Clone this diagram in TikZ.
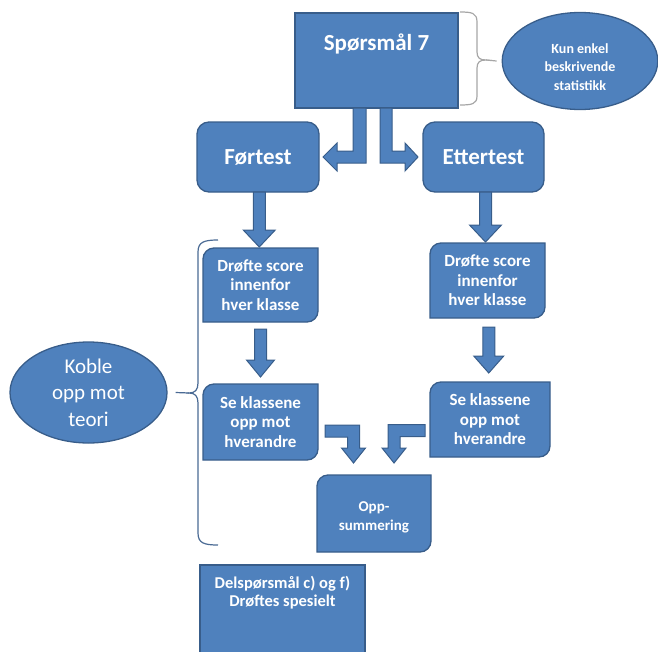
\documentclass[tikz,border=0pt]{standalone}
\usepackage{fontspec}
\setmainfont{Carlito}
\usetikzlibrary{shapes.geometric,calc}
\definecolor{boxc}{HTML}{4F81BD}
\definecolor{bordc}{HTML}{385D8A}
\definecolor{bracegrey}{HTML}{A6A6A6}
\definecolor{braceblue}{HTML}{4A6A94}
\pgfdeclarelayer{bg}
\pgfsetlayers{bg,main}

\tikzset{
  boxtxt/.style={text=white, align=center, inner sep=0pt, outer sep=0pt},
  sqbox/.style={boxtxt, draw=bordc, fill=boxc, line width=1.3pt},
  rndbox/.style={sqbox, rounded corners=12pt},
  ovalbox/.style={ellipse, draw=bordc, fill=boxc, line width=1.3pt, text=white, align=center, inner sep=0pt},
  blk/.style={fill=boxc, draw=bordc, line width=1pt, line join=miter},
  shapeline/.style={fill=boxc, draw=bordc, line width=1.3pt},
  bigtxt/.style={font=\fontsize{23}{28}\selectfont\bfseries},
  midtxt/.style={font=\fontsize{17}{19.5}\selectfont\bfseries},
}

% rectangle with rounded top-left and bottom-right corners, behind node #1
\newcommand\diagshape[2]{%
  \begin{pgfonlayer}{bg}
  \filldraw[shapeline] ([xshift=#2]#1.north west) -- (#1.north east)
    -- ([yshift=#2]#1.south east) arc[start angle=0,end angle=-90,radius=#2]
    -- (#1.south west) -- ([yshift=-#2]#1.north west)
    arc[start angle=180,end angle=90,radius=#2] -- cycle;
  \end{pgfonlayer}}

% straight block arrow pointing down: from, to, start gap, end gap, head half-width
\newcommand\blkdown[5]{%
  \filldraw[blk] let \p1=(#1), \p2=(#2), \p3=($(#1)!.5!(#2)$) in
    (\x3-6pt,\y1-#3) -- (\x3-6pt,\y2+#4+17pt) -- (\x3-#5,\y2+#4+17pt)
    -- (\x3,\y2+#4) -- (\x3+#5,\y2+#4+17pt) -- (\x3+6pt,\y2+#4+17pt)
    -- (\x3+6pt,\y1-#3) -- cycle;}

\begin{document}
\begin{tikzpicture}[x=1pt,y=-1pt]
\useasboundingbox (0,0) rectangle (658,651);

% boxes
\node[sqbox, bigtxt, minimum width=163pt, minimum height=95pt] (q7) at (376.5,60.5)
  {\parbox[c][95pt][t]{150pt}{\centering\vspace*{21pt}Spørsmål 7}};
\node[ovalbox, minimum width=154pt, minimum height=97pt,
  font=\fontsize{14}{18.5}\selectfont\bfseries] (kun) at (580,61)
  {\parbox{110pt}{\centering\vspace*{12pt}Kun enkel\\beskrivende\\statistikk}};

\node[rndbox, bigtxt, minimum width=122pt, minimum height=70pt] (f) at (258,157) {Førtest};
\node[rndbox, bigtxt, minimum width=121pt, minimum height=70pt] (e) at (483.5,157) {Ettertest};

\node[boxtxt, midtxt, minimum width=115pt, minimum height=74pt] (d1) at (260.5,285)
  {Drøfte score\\innenfor\\hver klasse};
\node[boxtxt, midtxt, minimum width=115pt, minimum height=75pt] (d2) at (487.5,280.5)
  {Drøfte score\\innenfor\\hver klasse};
\node[boxtxt, midtxt, minimum width=115pt, minimum height=76pt] (s1) at (260.5,422)
  {Se klassene\\opp mot\\hverandre};
\node[boxtxt, midtxt, minimum width=120pt, minimum height=75pt] (s2) at (490,419.5)
  {Se klassene\\opp mot\\hverandre};
\node[boxtxt, font=\fontsize{15}{19}\selectfont\bfseries, minimum width=114pt,
  minimum height=77pt] (o) at (374,513.5) {\parbox{100pt}{\centering\vspace*{8pt}Opp-\\summering}};

\diagshape{d1}{11pt}
\diagshape{d2}{11pt}
\diagshape{s1}{11pt}
\diagshape{s2}{11pt}
\diagshape{o}{11pt}

\node[ovalbox, minimum width=157pt, minimum height=101pt,
  font=\fontsize{21}{26.5}\selectfont] (koble) at (88.5,392.5) {Koble\\opp mot\\teori};

\node[sqbox, font=\fontsize{16.5}{18.5}\selectfont\bfseries, minimum width=165pt,
  minimum height=100pt] (del) at (282.5,615)
  {\parbox[c][100pt][t]{160pt}{\centering\vspace*{11pt}Delspørsmål c) og f)\\Drøftes spesielt}};

% bent arrows from the question to the two tests
\filldraw[blk] let \p1=(q7.south), \p2=(f.east) in
  (\x1-10.5pt,\y1) -- (\x1-10.5pt,\y2-6pt) -- (\x2+18pt,\y2-6pt) -- (\x2+18pt,\y2-14pt)
  -- (\x2+4pt,\y2) -- (\x2+18pt,\y2+14pt) -- (\x2+18pt,\y2+6pt) -- (\x1-23.5pt,\y2+6pt)
  -- (\x1-23.5pt,\y1) -- cycle;
\filldraw[blk] let \p1=(q7.south), \p2=(e.west) in
  (\x1+3.5pt,\y1) -- (\x1+3.5pt,\y2-6pt) -- (\x2-18pt,\y2-6pt) -- (\x2-18pt,\y2-14pt)
  -- (\x2-5pt,\y2) -- (\x2-18pt,\y2+14pt) -- (\x2-18pt,\y2+6pt) -- (\x1+15.5pt,\y2+6pt)
  -- (\x1+15.5pt,\y1) -- cycle;

% straight arrows down each column
\blkdown{f.south}{d1.north}{0pt}{1pt}{16pt}
\blkdown{d1.south}{s1.north}{7pt}{7pt}{14pt}
\blkdown{e.south}{d2.north}{0pt}{1pt}{16pt}
\blkdown{d2.south}{s2.north}{9pt}{9pt}{15pt}

% bent arrows into the summary
\filldraw[blk] let \p1=(s1.east), \p2=(o.north) in
  (\x1+7pt,\y1-3pt) -- (\x2-14.5pt,\y1-3pt) -- (\x2-14.5pt,\y2+27pt) -- (\x2-8.5pt,\y2+27pt)
  -- (\x2-20.5pt,\y2+12pt) -- (\x2-32.5pt,\y2+27pt) -- (\x2-26.5pt,\y2+27pt)
  -- (\x2-26.5pt,\y1-15pt) -- (\x1+7pt,\y1-15pt) -- cycle;
\filldraw[blk] let \p1=(s2.west), \p2=(o.north) in
  (\x1-5pt,\y1-5pt) -- (\x2+14pt,\y1-5pt) -- (\x2+14pt,\y2+27pt) -- (\x2+8pt,\y2+27pt)
  -- (\x2+20pt,\y2+12pt) -- (\x2+32pt,\y2+27pt) -- (\x2+26pt,\y2+27pt)
  -- (\x2+26pt,\y1-17pt) -- (\x1-5pt,\y1-17pt) -- cycle;

% brace beside the question
\coordinate (bt1) at (486,60);
\draw[bracegrey, line width=1.2pt]
  (460,12) .. controls (472,12) and (477,13) .. (477,22) -- (477,52)
  .. controls (477,58) and (480,60) .. (bt1)
  .. controls (480,60) and (477,62) .. (477,68) -- (477,96)
  .. controls (477,104) and (472,105) .. (460,105);
\draw[bracegrey, line width=1.2pt] (bt1) -- ([xshift=-5pt]kun.west);

% brace along the left column
\coordinate (bt2) at (189,393);
\draw[braceblue, line width=1.2pt]
  (218,240) .. controls (204,240) and (198,242) .. (198,252) -- (198,383)
  .. controls (198,390) and (195,393) .. (bt2)
  .. controls (195,393) and (198,396) .. (198,403) -- (198,533)
  .. controls (198,543) and (204,545) .. (218,545);
\draw[braceblue, line width=1.2pt] (bt2) -- ([xshift=8pt]koble.east);
\end{tikzpicture}
\end{document}
